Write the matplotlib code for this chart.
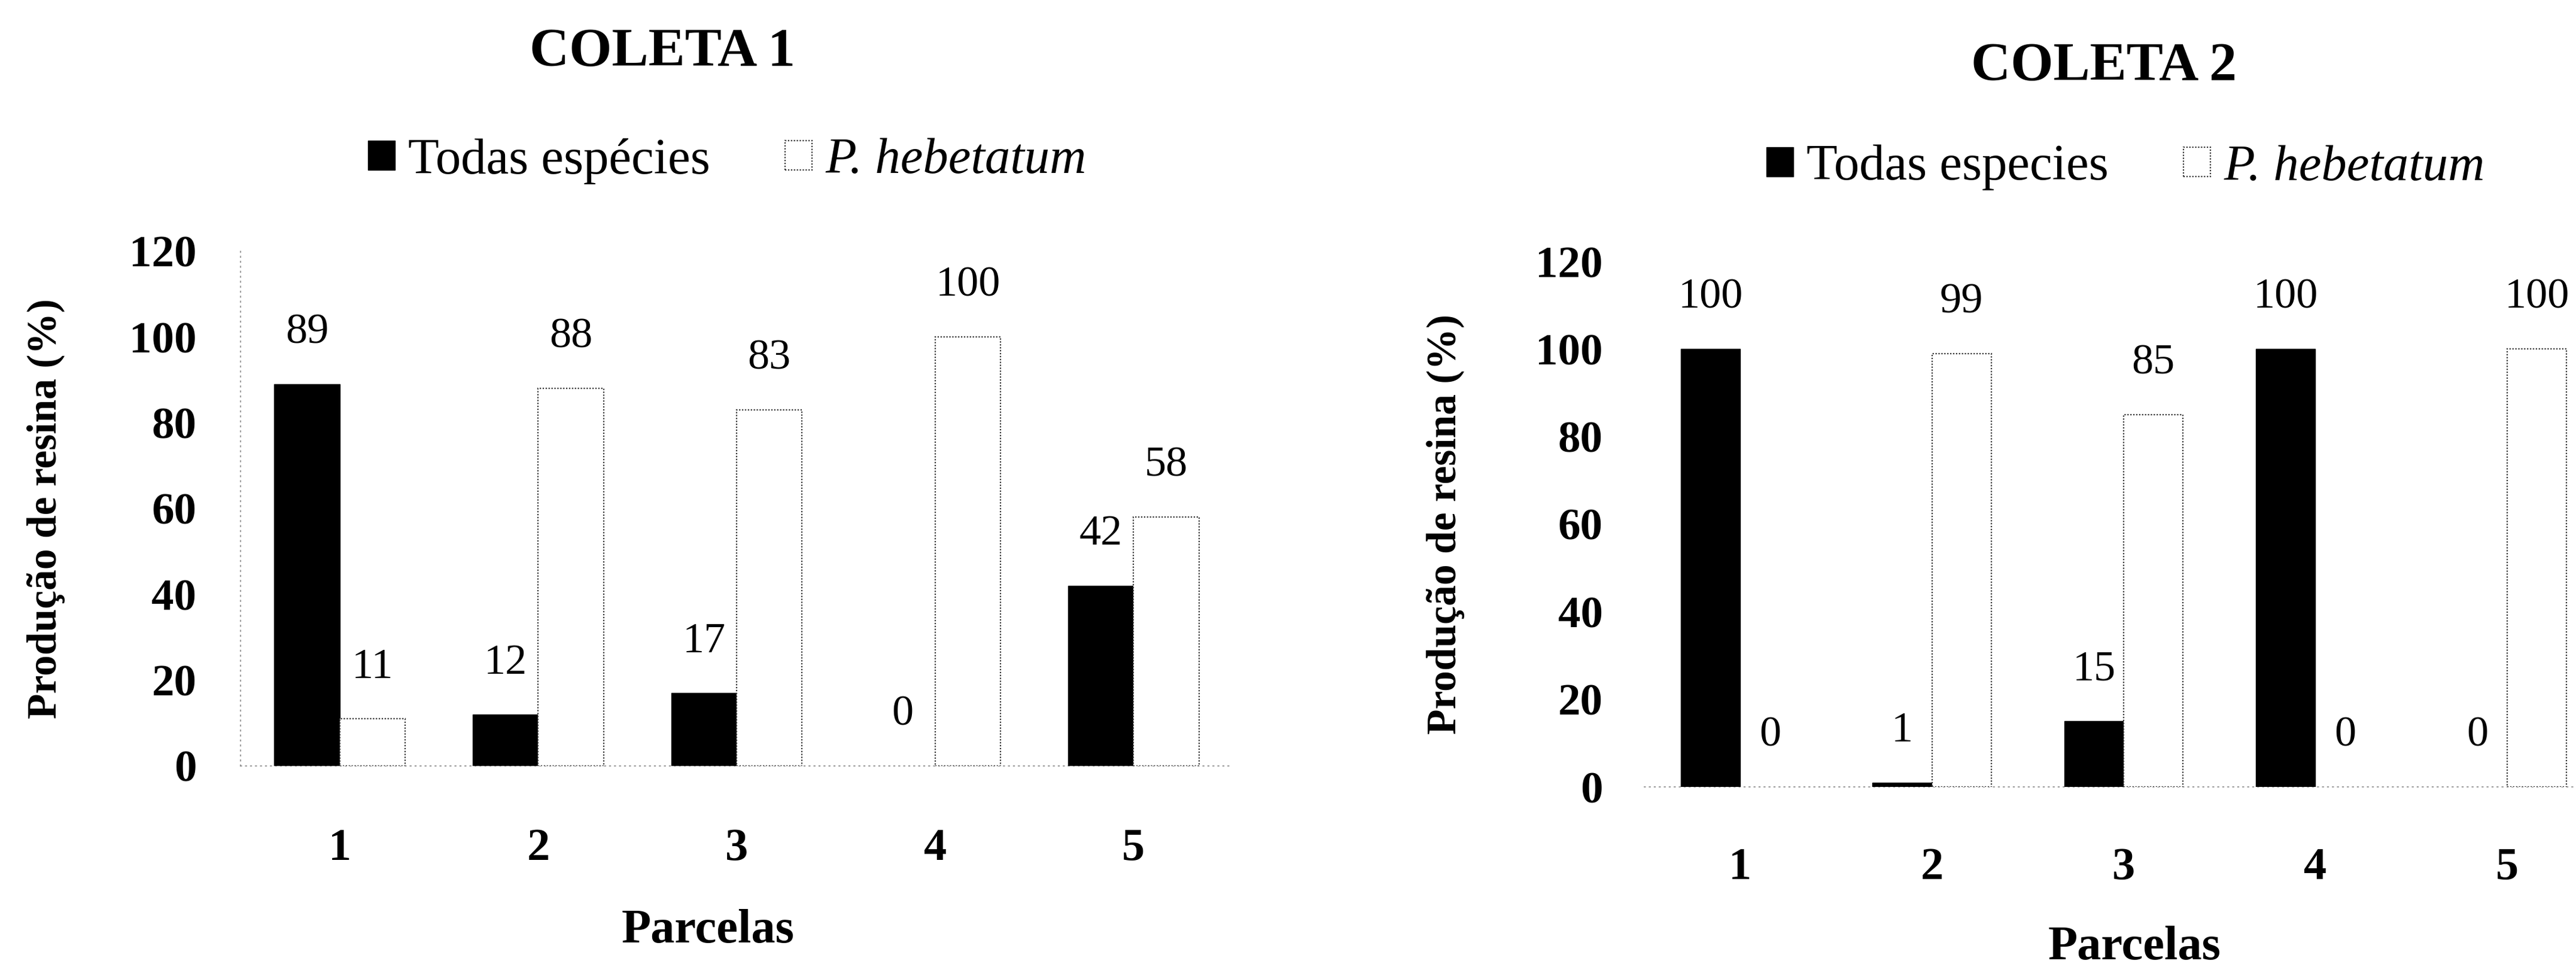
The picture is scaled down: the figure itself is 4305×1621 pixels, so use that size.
import matplotlib
matplotlib.use('Agg')
import matplotlib.pyplot as plt
import numpy as np

# ---------------- data ----------------
parcelas = ['1', '2', '3', '4', '5']
coleta1_todas = [89, 12, 17, 0, 42]
coleta1_heb = [11, 88, 83, 100, 58]
coleta2_todas = [100, 1, 15, 100, 0]
coleta2_heb = [0, 99, 85, 0, 100]
titles = ['COLETA 1', 'COLETA 2']
legend_labels_1 = ['Todas espécies', 'P. hebetatum']
legend_labels_2 = ['Todas especies', 'P. hebetatum']
yticks = [0, 20, 40, 60, 80, 100, 120]
ylabel = 'Produção de resina (%)'
xlabel = 'Parcelas'

# ---------------- layout ----------------
W, H = 4305, 1621
DPI = 100
plt.rcParams['font.family'] = ['Liberation Serif', 'DejaVu Serif']
fig = plt.figure(figsize=(W / DPI, H / DPI), dpi=DPI)


def px_box(x0, x1, ytop, ybot):
    return [x0 / W, 1 - ybot / H, (x1 - x0) / W, (ybot - ytop) / H]


panels = [
    dict(todas=coleta1_todas, heb=coleta1_heb, title=titles[0], labels=legend_labels_1,
         box=(402, 2060, 420, 1280), width=0.33, title_xy=(1107, 88),
         leg_xy=(615, 269), ylab_x=77, xlab_xy=(1183, 1555),
         ypad=53, xpad=75, left_spine=True),
    dict(todas=coleta2_todas, heb=coleta2_heb, title=titles[1], labels=legend_labels_2,
         box=(2748, 4350, 437, 1315), width=0.31, title_xy=(3516, 112),
         leg_xy=(2952, 280), ylab_x=2416, xlab_xy=(3567, 1584),
         ypad=50, xpad=73, left_spine=False),
]

for p in panels:
    x0, x1, yt, yb = p['box']
    ax = fig.add_axes(px_box(x0, x1, yt, yb))
    x = np.arange(1, len(parcelas) + 1)
    w = p['width']
    b1 = ax.bar(x - w / 2, p['todas'], width=w, color='black', edgecolor='black',
                linewidth=1.0, label=p['labels'][0], zorder=3)
    b2 = ax.bar(x + w / 2, p['heb'], width=w, color='white', edgecolor='#333333',
                linewidth=1.6, linestyle=(0, (1, 1.2)), label=p['labels'][1], zorder=3)
    # keep legend handles before hiding zero-height bars
    h1 = plt.Rectangle((0, 0), 1, 1, facecolor='black', edgecolor='black', linewidth=1.0)
    h2 = plt.Rectangle((0, 0), 1, 1, facecolor='white', edgecolor='#333333',
                       linewidth=1.6, linestyle=(0, (1, 1.2)))
    for cont, vals in ((b1, p['todas']), (b2, p['heb'])):
        for rect, v in zip(cont.patches, vals):
            if v == 0:
                rect.set_edgecolor('none')

    for xs, vals in ((x - w / 2, p['todas']), (x + w / 2, p['heb'])):
        for xi, v in zip(xs, vals):
            ax.annotate(f'{v}', (xi, v), xytext=(0, 86), textcoords='offset pixels',
                        ha='center', va='center', fontsize=52, color='black')

    ax.set_xlim(0.5, len(parcelas) + 0.5)
    ax.set_ylim(0, 120)
    ax.set_xticks(x)
    ax.set_xticklabels(parcelas, fontsize=55, fontweight='bold')
    ax.set_yticks(yticks)
    ax.set_yticklabels([str(t) for t in yticks], fontsize=54, fontweight='bold')
    ax.tick_params(axis='y', length=0, pad=p['ypad'])
    ax.tick_params(axis='x', length=0, pad=p['xpad'])

    for s in ('top', 'right'):
        ax.spines[s].set_visible(False)
    ax.spines['bottom'].set_color('#888888')
    ax.spines['bottom'].set_linestyle((0, (1, 4)))
    ax.spines['bottom'].set_linewidth(1.2)
    if p['left_spine']:
        ax.spines['left'].set_color('#888888')
        ax.spines['left'].set_linestyle((0, (1, 4)))
        ax.spines['left'].set_linewidth(1.2)
    else:
        ax.spines['left'].set_visible(False)

    # axis labels
    ax.set_ylabel(ylabel, fontsize=50, fontweight='bold')
    ax.yaxis.label.set_va('center')
    ax.yaxis.set_label_coords((p['ylab_x'] - x0) / (x1 - x0), 0.5)
    ax.set_xlabel(xlabel, fontsize=58, fontweight='bold')
    ax.xaxis.label.set_va('center')
    ax.xaxis.set_label_coords((p['xlab_xy'][0] - x0) / (x1 - x0),
                              (yb - p['xlab_xy'][1]) / (yb - yt))

    # title
    fig.text(p['title_xy'][0] / W, 1 - p['title_xy'][1] / H, p['title'],
             ha='center', va='center', fontsize=66, fontweight='bold')

    # legend
    leg = ax.legend(handles=[h1, h2], labels=p['labels'], loc='center left',
                    bbox_to_anchor=(p['leg_xy'][0] / W, 1 - p['leg_xy'][1] / H),
                    bbox_transform=fig.transFigure, ncol=2, frameon=False,
                    fontsize=61, borderpad=0, borderaxespad=0,
                    handlelength=0.53, handleheight=0.5, handletextpad=0.26,
                    columnspacing=1.48)
    leg.get_texts()[1].set_style('italic')

fig.savefig('out.png', dpi=DPI, facecolor='white')
